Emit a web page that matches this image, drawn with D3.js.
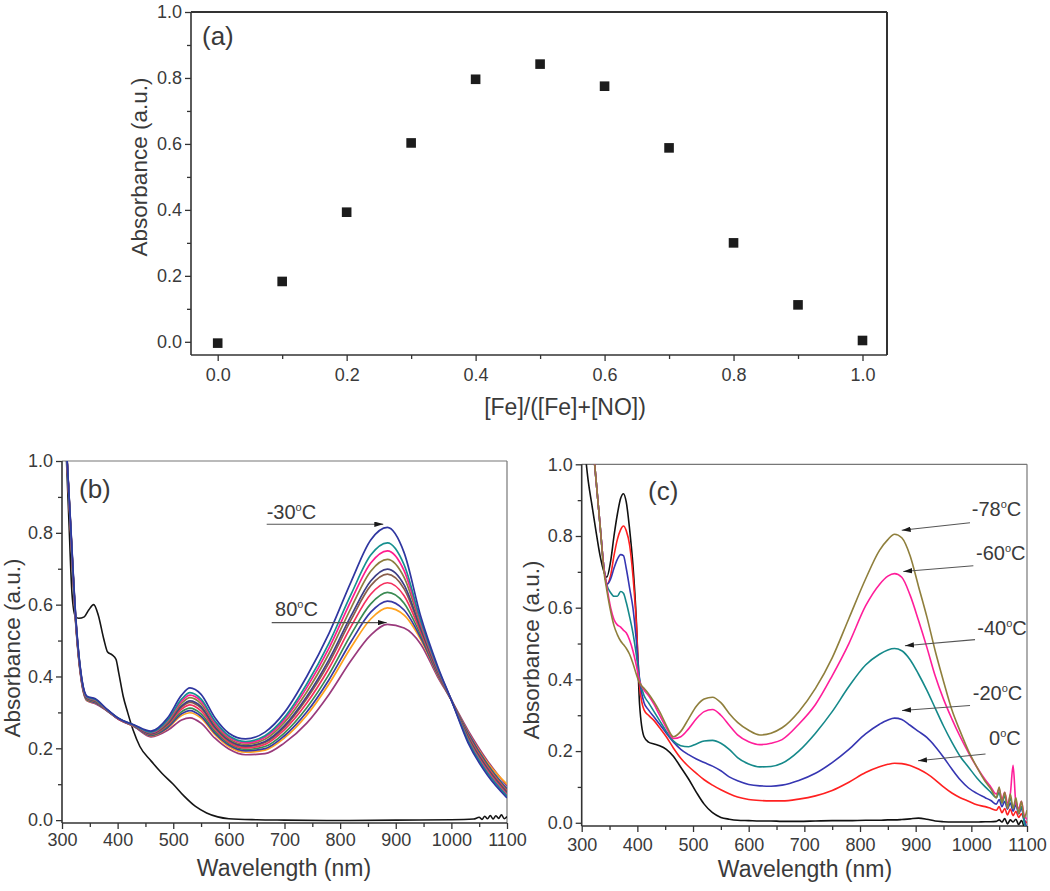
<!DOCTYPE html>
<html><head><meta charset="utf-8">
<script src="https://cdn.jsdelivr.net/npm/d3@7"></script>
<style>
body{margin:0;background:#fff}
svg text{font-family:"Liberation Sans",Arial,sans-serif;fill:#3a3a3a}
</style></head>
<body><svg id="chart" width="1050" height="891"></svg>
<script>
// ---------- Panel (a) data ----------
const fracX = [0.0,0.1,0.2,0.3,0.4,0.5,0.6,0.7,0.8,0.9,1.0];
const absA  = [-0.004,0.183,0.393,0.603,0.796,0.842,0.775,0.588,0.300,0.112,0.004];
const aXTicks = [0,0.2,0.4,0.6,0.8,1.0];
const aYTicks = [0,0.2,0.4,0.6,0.8,1.0];

// ---------- Panel (b) data ----------
const wlB = [305,315,325,335,345,360,380,400,430,460,490,515,530,550,575,600,630,665,700,740,780,820,855,885,915,945,975,1000,1030,1065,1100];
const bMinus30 = [1.12,0.84,0.56,0.40,0.345,0.338,0.31,0.285,0.265,0.248,0.285,0.348,0.368,0.35,0.285,0.242,0.226,0.245,0.30,0.40,0.52,0.665,0.78,0.815,0.745,0.567,0.43,0.334,0.215,0.125,0.062];
const bS2  = [1.12,0.837,0.557,0.398,0.343,0.336,0.309,0.285,0.264,0.245,0.279,0.337,0.355,0.337,0.276,0.235,0.219,0.235,0.286,0.379,0.493,0.63,0.738,0.772,0.711,0.555,0.425,0.334,0.221,0.131,0.067];
const bS3  = [1.12,0.835,0.555,0.396,0.342,0.335,0.309,0.284,0.264,0.244,0.277,0.331,0.348,0.331,0.271,0.231,0.215,0.231,0.28,0.369,0.479,0.612,0.716,0.750,0.695,0.549,0.423,0.334,0.223,0.135,0.07];
const bS4  = [1.12,0.833,0.553,0.395,0.341,0.333,0.308,0.284,0.263,0.243,0.273,0.325,0.341,0.324,0.266,0.227,0.211,0.225,0.272,0.357,0.464,0.592,0.693,0.726,0.676,0.542,0.42,0.334,0.227,0.138,0.073];
const bS5  = [1.12,0.831,0.551,0.394,0.339,0.332,0.308,0.284,0.263,0.241,0.27,0.318,0.332,0.316,0.26,0.223,0.207,0.219,0.263,0.344,0.447,0.570,0.666,0.699,0.655,0.534,0.417,0.334,0.23,0.142,0.076];
const bS6  = [1.12,0.83,0.55,0.393,0.339,0.331,0.308,0.284,0.263,0.24,0.268,0.315,0.328,0.312,0.258,0.221,0.205,0.216,0.259,0.338,0.438,0.559,0.653,0.685,0.644,0.53,0.416,0.334,0.232,0.144,0.078];
const bS7  = [1.12,0.829,0.549,0.391,0.338,0.33,0.307,0.283,0.262,0.239,0.265,0.309,0.321,0.304,0.253,0.217,0.201,0.211,0.252,0.326,0.423,0.540,0.629,0.661,0.625,0.523,0.413,0.334,0.235,0.148,0.081];
const bS8  = [1.12,0.827,0.547,0.39,0.336,0.329,0.307,0.283,0.262,0.237,0.262,0.302,0.312,0.296,0.247,0.213,0.197,0.205,0.243,0.313,0.406,0.518,0.602,0.634,0.604,0.515,0.41,0.334,0.238,0.152,0.084];
const bS9  = [1.12,0.825,0.545,0.389,0.335,0.327,0.306,0.283,0.261,0.236,0.258,0.296,0.305,0.289,0.242,0.209,0.193,0.199,0.235,0.301,0.391,0.498,0.579,0.61,0.585,0.508,0.407,0.334,0.242,0.155,0.087];
const bS10 = [1.12,0.823,0.543,0.388,0.334,0.326,0.306,0.283,0.261,0.235,0.256,0.291,0.299,0.284,0.238,0.205,0.189,0.195,0.229,0.292,0.379,0.482,0.560,0.591,0.571,0.503,0.405,0.334,0.244,0.16,0.1];
const b80  = [1.12,0.82,0.54,0.385,0.332,0.324,0.305,0.282,0.26,0.232,0.25,0.279,0.285,0.27,0.228,0.198,0.182,0.185,0.215,0.27,0.35,0.445,0.515,0.545,0.535,0.49,0.40,0.334,0.25,0.165,0.095];
const bSeries = [bMinus30,bS2,bS3,bS4,bS5,bS6,bS7,bS8,bS9,bS10,b80];
const bColors = ["#2f36a0","#16908f","#ff1c8e","#8c7d3e","#3e3e86","#8a5e4a","#f5305e","#3a8a52","#3838a4","#ffa21e","#9a3a7c"];

const wlBk = [305,312,318,324,330,340,348,357,365,375,382,390,397,402,410,418,428,440,460,480,500,520,540,560,580,600,650,700,800,900,1000,1040,1050,1055,1060,1065,1070,1075,1080,1085,1090,1095,1100];
const bBlack = [1.12,0.85,0.63,0.568,0.562,0.566,0.585,0.600,0.572,0.505,0.468,0.46,0.448,0.41,0.345,0.30,0.25,0.205,0.165,0.13,0.10,0.066,0.038,0.02,0.009,0.004,0.001,0.0,-0.001,0.0,0.001,0.003,0.008,0.002,0.011,0.004,0.013,0.003,0.012,0.005,0.015,0.004,0.01];

const bLabels = ["-30","80"];
const bLabelPos = [[668,0.838],[683,0.568]];
const bArrows = [[668,0.824,877.6,0.824],[677,0.55,883.7,0.55]];

// ---------- Panel (c) data ----------
const wlC = [305,312,318,325,333,340,345,352,358,364,370,375,380,386,392,398,404,412,420,430,440,452,465,478,492,506,520,535,550,565,580,600,620,640,660,690,720,750,780,810,835,850,862,875,890,905,920,935,950,965,980,995,1010,1025,1035,1045,1050,1055,1060,1065,1070,1075,1080,1085,1090,1095,1100];
const cBlack = [1.05,0.95,0.89,0.82,0.745,0.70,0.685,0.73,0.80,0.86,0.905,0.918,0.895,0.82,0.72,0.57,0.33,0.24,0.225,0.22,0.215,0.205,0.185,0.155,0.122,0.085,0.052,0.028,0.015,0.01,0.007,0.006,0.005,0.005,0.004,0.004,0.005,0.006,0.006,0.007,0.007,0.008,0.008,0.009,0.011,0.013,0.01,0.005,0.003,0.002,0.002,0.002,0.002,0.003,0.003,0.004,0.008,0.002,0.012,-0.003,0.008,0.002,0.01,-0.005,0.006,-0.012,-0.03];
const c0   = [1.35,1.2,1.09,0.97,0.83,0.71,0.665,0.69,0.745,0.79,0.818,0.828,0.815,0.775,0.69,0.56,0.38,0.315,0.3,0.285,0.265,0.24,0.208,0.18,0.157,0.138,0.12,0.105,0.092,0.081,0.072,0.065,0.062,0.061,0.061,0.066,0.075,0.09,0.113,0.14,0.156,0.163,0.166,0.165,0.16,0.15,0.137,0.12,0.1,0.083,0.07,0.06,0.05,0.045,0.04,0.035,0.045,0.028,0.04,0.022,0.038,0.02,0.032,0.015,0.025,0.008,0.0];
const cM20 = [1.35,1.2,1.09,0.97,0.83,0.71,0.665,0.68,0.71,0.735,0.748,0.745,0.71,0.655,0.6,0.51,0.40,0.335,0.315,0.295,0.275,0.25,0.225,0.205,0.19,0.178,0.168,0.158,0.145,0.128,0.117,0.107,0.103,0.102,0.105,0.118,0.138,0.168,0.205,0.248,0.275,0.287,0.292,0.288,0.272,0.255,0.238,0.213,0.183,0.15,0.12,0.097,0.082,0.07,0.062,0.052,0.065,0.045,0.06,0.038,0.055,0.032,0.05,0.025,0.04,0.01,-0.02];
const cM40 = [1.35,1.2,1.09,0.97,0.83,0.71,0.665,0.642,0.632,0.632,0.645,0.64,0.615,0.575,0.53,0.47,0.40,0.355,0.335,0.31,0.285,0.255,0.228,0.215,0.212,0.22,0.228,0.23,0.222,0.205,0.182,0.164,0.156,0.157,0.166,0.2,0.25,0.31,0.38,0.44,0.47,0.482,0.486,0.48,0.455,0.415,0.37,0.32,0.27,0.225,0.185,0.155,0.125,0.1,0.085,0.07,0.085,0.055,0.075,0.045,0.068,0.04,0.06,0.03,0.045,0.0,-0.03];
const cM60 = [1.35,1.2,1.09,0.97,0.83,0.71,0.66,0.6,0.567,0.552,0.546,0.537,0.53,0.51,0.48,0.44,0.395,0.37,0.355,0.33,0.3,0.265,0.235,0.24,0.262,0.29,0.31,0.316,0.3,0.272,0.245,0.226,0.218,0.222,0.232,0.275,0.33,0.41,0.5,0.605,0.665,0.688,0.695,0.685,0.635,0.565,0.49,0.41,0.345,0.29,0.24,0.195,0.155,0.12,0.1,0.08,0.095,0.065,0.085,0.055,0.08,0.16,0.055,0.04,0.06,0.02,0.01];
const cM78 = [1.35,1.2,1.09,0.97,0.83,0.70,0.65,0.59,0.55,0.525,0.507,0.497,0.487,0.47,0.445,0.415,0.39,0.375,0.36,0.337,0.31,0.272,0.24,0.255,0.29,0.325,0.345,0.35,0.335,0.305,0.28,0.258,0.245,0.25,0.265,0.31,0.375,0.46,0.57,0.68,0.76,0.79,0.805,0.795,0.745,0.66,0.575,0.48,0.395,0.315,0.255,0.2,0.155,0.115,0.095,0.07,0.1,0.055,0.085,0.04,0.08,0.04,0.07,0.025,0.06,0.015,0.035];
const cSeries = [cBlack,c0,cM20,cM40,cM60,cM78];
const cColors = ["#111111","#ff2020","#3636b2","#15898a","#ff1e9a","#8f7f3c"];

const cLabels = ["-78","-60","-40","-20","0"];
const cLabelPos = [[1000.7,0.857],[1008.4,0.734],[1010.7,0.525],[1002.5,0.343],[1031.8,0.217]];
const cArrows = [[997.6,0.837,874.9,0.816],[1003.6,0.717,877.8,0.701],[1006.6,0.511,880.7,0.494],[997.6,0.327,875.5,0.313],[1025.5,0.192,904.2,0.173]];

const specXMajor = [300,400,500,600,700,800,900,1000,1100];
const specXMinor = [350,450,550,650,750,850,950,1050];
const specYMajor = [0,0.2,0.4,0.6,0.8,1.0];
const specYMinor = [0.1,0.3,0.5,0.7,0.9];

// ---------- drawing ----------
const svg = d3.select("#chart");
const defs = svg.append("defs");
defs.append("marker").attr("id","ah").attr("viewBox","0 0 10 6")
  .attr("refX",10).attr("refY",3).attr("markerWidth",9).attr("markerHeight",5.4)
  .attr("markerUnits","userSpaceOnUse").attr("orient","auto")
  .append("path").attr("d","M0,0L10,3L0,6Z").attr("fill","#1a1a1a");

function panel(p){
  const x = d3.scaleLinear().domain(p.xd).range([p.l,p.r]);
  const y = d3.scaleLinear().domain(p.yd).range([p.b,p.t]);
  const g = svg.append("g");
  defs.append("clipPath").attr("id",p.id).append("rect")
    .attr("x",p.l).attr("y",p.t).attr("width",p.r-p.l).attr("height",p.b-p.t);
  g.append("line").attr("x1",p.l).attr("x2",p.r).attr("y1",p.t).attr("y2",p.t)
    .attr("stroke",p.frameCol).attr("stroke-width",p.frameW);
  g.append("line").attr("x1",p.r).attr("x2",p.r).attr("y1",p.t).attr("y2",p.b)
    .attr("stroke",p.frameCol).attr("stroke-width",p.frameW);
  const style = sel => {
    sel.select(".domain").remove();
    sel.selectAll("line").attr("stroke","#333").attr("stroke-width",1.3);
    sel.attr("font-size",18).attr("font-family","Liberation Sans, Arial, sans-serif");
    sel.selectAll("text").attr("fill","#3a3a3a");
  };
  g.append("g").attr("transform",`translate(0,${p.b})`)
    .call(d3.axisBottom(x).tickValues(p.xMajor).tickSize(6).tickPadding(p.xPad).tickFormat(p.xFmt)).call(style);
  g.append("g").attr("transform",`translate(0,${p.b})`)
    .call(d3.axisBottom(x).tickValues(p.xMinor).tickSize(4).tickFormat("")).call(style);
  g.append("g").attr("transform",`translate(${p.l},0)`)
    .call(d3.axisLeft(y).tickValues(p.yMajor).tickSize(6).tickPadding(3).tickFormat(d3.format(".1f"))).call(style);
  g.append("g").attr("transform",`translate(${p.l},0)`)
    .call(d3.axisLeft(y).tickValues(p.yMinor).tickSize(4).tickFormat("")).call(style);
  g.append("line").attr("x1",p.l).attr("x2",p.r).attr("y1",p.b).attr("y2",p.b).attr("stroke","#333").attr("stroke-width",1.6);
  g.append("line").attr("x1",p.l).attr("x2",p.l).attr("y1",p.t).attr("y2",p.b).attr("stroke","#333").attr("stroke-width",1.6);
  g.append("text").attr("x",p.xtx).attr("y",p.xty).attr("text-anchor","middle").attr("font-size",23).text(p.xTitle);
  g.append("text").attr("transform",`translate(${p.ytx},${p.yty}) rotate(-90)`).attr("text-anchor","middle").attr("font-size",22.5).text("Absorbance (a.u.)");
  g.append("text").attr("x",p.lbx).attr("y",p.lby).attr("font-size",26).text(p.label);
  return {x,y,g};
}

// Panel (a)
const A = panel({id:"ca",l:191,r:887,t:12,b:355,xd:[-0.0414,1.038],yd:[-0.04,1.0],
  xMajor:aXTicks,xMinor:[0.1,0.3,0.5,0.7,0.9],yMajor:aYTicks,yMinor:[0.1,0.3,0.5,0.7,0.9],
  xFmt:d3.format(".1f"),xPad:7,frameCol:"#333",frameW:2,
  xTitle:"[Fe]/([Fe]+[NO])",xtx:565,xty:415,ytx:147,yty:167,label:"(a)",lbx:202,lby:45});
A.g.selectAll("rect.pt").data(d3.zip(fracX,absA)).join("rect").attr("class","pt")
  .attr("x",d=>A.x(d[0])-4.8).attr("y",d=>A.y(d[1])-4.8).attr("width",9.6).attr("height",9.6)
  .attr("fill","#1c1c1c");

// Panel (b)
const B = panel({id:"cb",l:62,r:507,t:461,b:823,xd:[300,1100],yd:[-0.008,1.0],
  xMajor:specXMajor,xMinor:specXMinor,yMajor:specYMajor,yMinor:specYMinor,
  xFmt:d3.format("d"),xPad:4,frameCol:"#777",frameW:1.2,
  xTitle:"Wavelength (nm)",xtx:284,xty:876,ytx:20,yty:648,label:"(b)",lbx:79,lby:498});
const lineB = d3.line().x(d=>B.x(d[0])).y(d=>B.y(d[1])).curve(d3.curveMonotoneX);
const gb = B.g.append("g").attr("clip-path","url(#cb)").attr("fill","none");
gb.append("path").attr("d",lineB(d3.zip(wlBk,bBlack))).attr("stroke","#151515").attr("stroke-width",1.6);
bSeries.slice().reverse().forEach((s,i)=>{
  const col = bColors[bSeries.length-1-i];
  gb.append("path").attr("d",lineB(d3.zip(wlB,s))).attr("stroke",col).attr("stroke-width",1.7);
});

// Panel (c)
const C = panel({id:"cc",l:581.7,r:1027,t:464.3,b:826,xd:[300,1100],yd:[-0.009,1.0],
  xMajor:specXMajor,xMinor:specXMinor,yMajor:specYMajor,yMinor:specYMinor,
  xFmt:d3.format("d"),xPad:6,frameCol:"#777",frameW:1.2,
  xTitle:"Wavelength (nm)",xtx:805,xty:877,ytx:539,yty:650,label:"(c)",lbx:648,lby:500});
const lineC = d3.line().x(d=>C.x(d[0])).y(d=>C.y(d[1])).curve(d3.curveMonotoneX);
const gc = C.g.append("g").attr("clip-path","url(#cc)").attr("fill","none");
cSeries.forEach((s,i)=>{
  gc.append("path").attr("d",lineC(d3.zip(wlC,s))).attr("stroke",cColors[i]).attr("stroke-width",1.6);
});

// annotations
function degText(g,x,y,num){
  const t = g.append("text").attr("x",x).attr("y",y).attr("font-size",20);
  t.append("tspan").text(num);
  t.append("tspan").attr("font-size",11).attr("dy",-8).text("o");
  t.append("tspan").attr("dy",8).text("C");
}
function annotate(P,labels,pos,arrows){
  labels.forEach((l,i)=>degText(P.g,P.x(pos[i][0]),P.y(pos[i][1]),l));
  arrows.forEach(a=>{
    P.g.append("line").attr("x1",P.x(a[0])).attr("y1",P.y(a[1])).attr("x2",P.x(a[2])).attr("y2",P.y(a[3]))
      .attr("stroke","#555").attr("stroke-width",1.1).attr("marker-end","url(#ah)");
  });
}
annotate(B,bLabels,bLabelPos,bArrows);
annotate(C,cLabels,cLabelPos,cArrows);
</script></body></html>
